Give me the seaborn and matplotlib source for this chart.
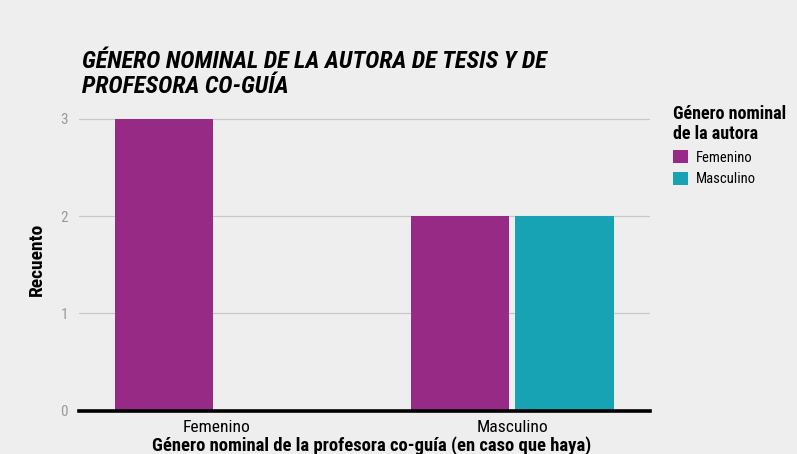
import matplotlib
matplotlib.use("Agg")
import matplotlib.pyplot as plt
import pandas as pd
import seaborn as sns

# data
profesora = ["Femenino", "Femenino", "Masculino", "Masculino"]
autora = ["Femenino", "Masculino", "Femenino", "Masculino"]
recuento = [3, 0, 2, 2]

hue_order = ["Femenino", "Masculino"]
palette = {"Femenino": "#962a84", "Masculino": "#17a3b4"}

df = pd.DataFrame({"profesora": profesora, "autora": autora, "recuento": recuento})

sns.set_style("white")
plt.rcParams["font.family"] = ["Roboto Condensed", "Liberation Sans Narrow", "Roboto", "DejaVu Sans"]
plt.rcParams["text.color"] = "black"
plt.rcParams["axes.labelcolor"] = "black"

BG = "#eeeeee"
fig = plt.figure(figsize=(7.97, 4.54), dpi=100, facecolor=BG)
ax = fig.add_axes([0.099, 0.0958, 0.717, 0.6637], facecolor=BG)

sns.barplot(data=df, x="profesora", y="recuento", hue="autora",
            order=hue_order, hue_order=hue_order, palette=palette,
            width=0.705, gap=0.055, saturation=1, linewidth=0, ax=ax, zorder=3)

ax.set_xlim(-0.463, 1.466)
ax.set_ylim(0, 3.1)
ax.set_yticks([0, 1, 2, 3])
ax.yaxis.grid(True, color="#c8c8c8", linewidth=0.9, zorder=0)
ax.set_axisbelow(True)
for s in ["top", "right", "left"]:
    ax.spines[s].set_visible(False)
ax.spines["bottom"].set_color("black")
ax.spines["bottom"].set_linewidth(2.6)
ax.spines["bottom"].set_zorder(5)

ax.tick_params(axis="y", length=0, labelsize=11, labelcolor="#9a9a9a", pad=8)
ax.tick_params(axis="x", length=0, labelsize=12.6, labelcolor="black", pad=7)

ax.set_xlabel("Género nominal de la profesora co-guía (en caso que haya)",
              fontsize=13.4, fontweight="bold", labelpad=3)
ax.xaxis.set_label_coords(0.513, -0.135)
ax.xaxis.label.set_va("baseline")
ax.set_ylabel("Recuento", fontsize=14, fontweight="bold", labelpad=10)

fig.text(0.103, 0.850, "GÉNERO NOMINAL DE LA AUTORA DE TESIS Y DE",
         fontsize=17.5, fontweight="bold", fontstyle="italic", va="baseline", ha="left")
fig.text(0.103, 0.795, "PROFESORA CO-GUÍA",
         fontsize=17.5, fontweight="bold", fontstyle="italic", va="baseline", ha="left")

leg = ax.legend(title="Género nominal\nde la autora", loc="upper left",
                bbox_to_anchor=(0.845, 0.768), bbox_transform=fig.transFigure,
                borderaxespad=0, borderpad=0, frameon=False, fontsize=10.5,
                title_fontsize=13, handlelength=1.0, handleheight=1.0,
                handletextpad=0.55, labelspacing=0.5, alignment="left")
leg.get_title().set_fontweight("bold")
leg.get_title().set_linespacing(1.1)

fig.savefig("out.png", dpi=100, facecolor=BG)
